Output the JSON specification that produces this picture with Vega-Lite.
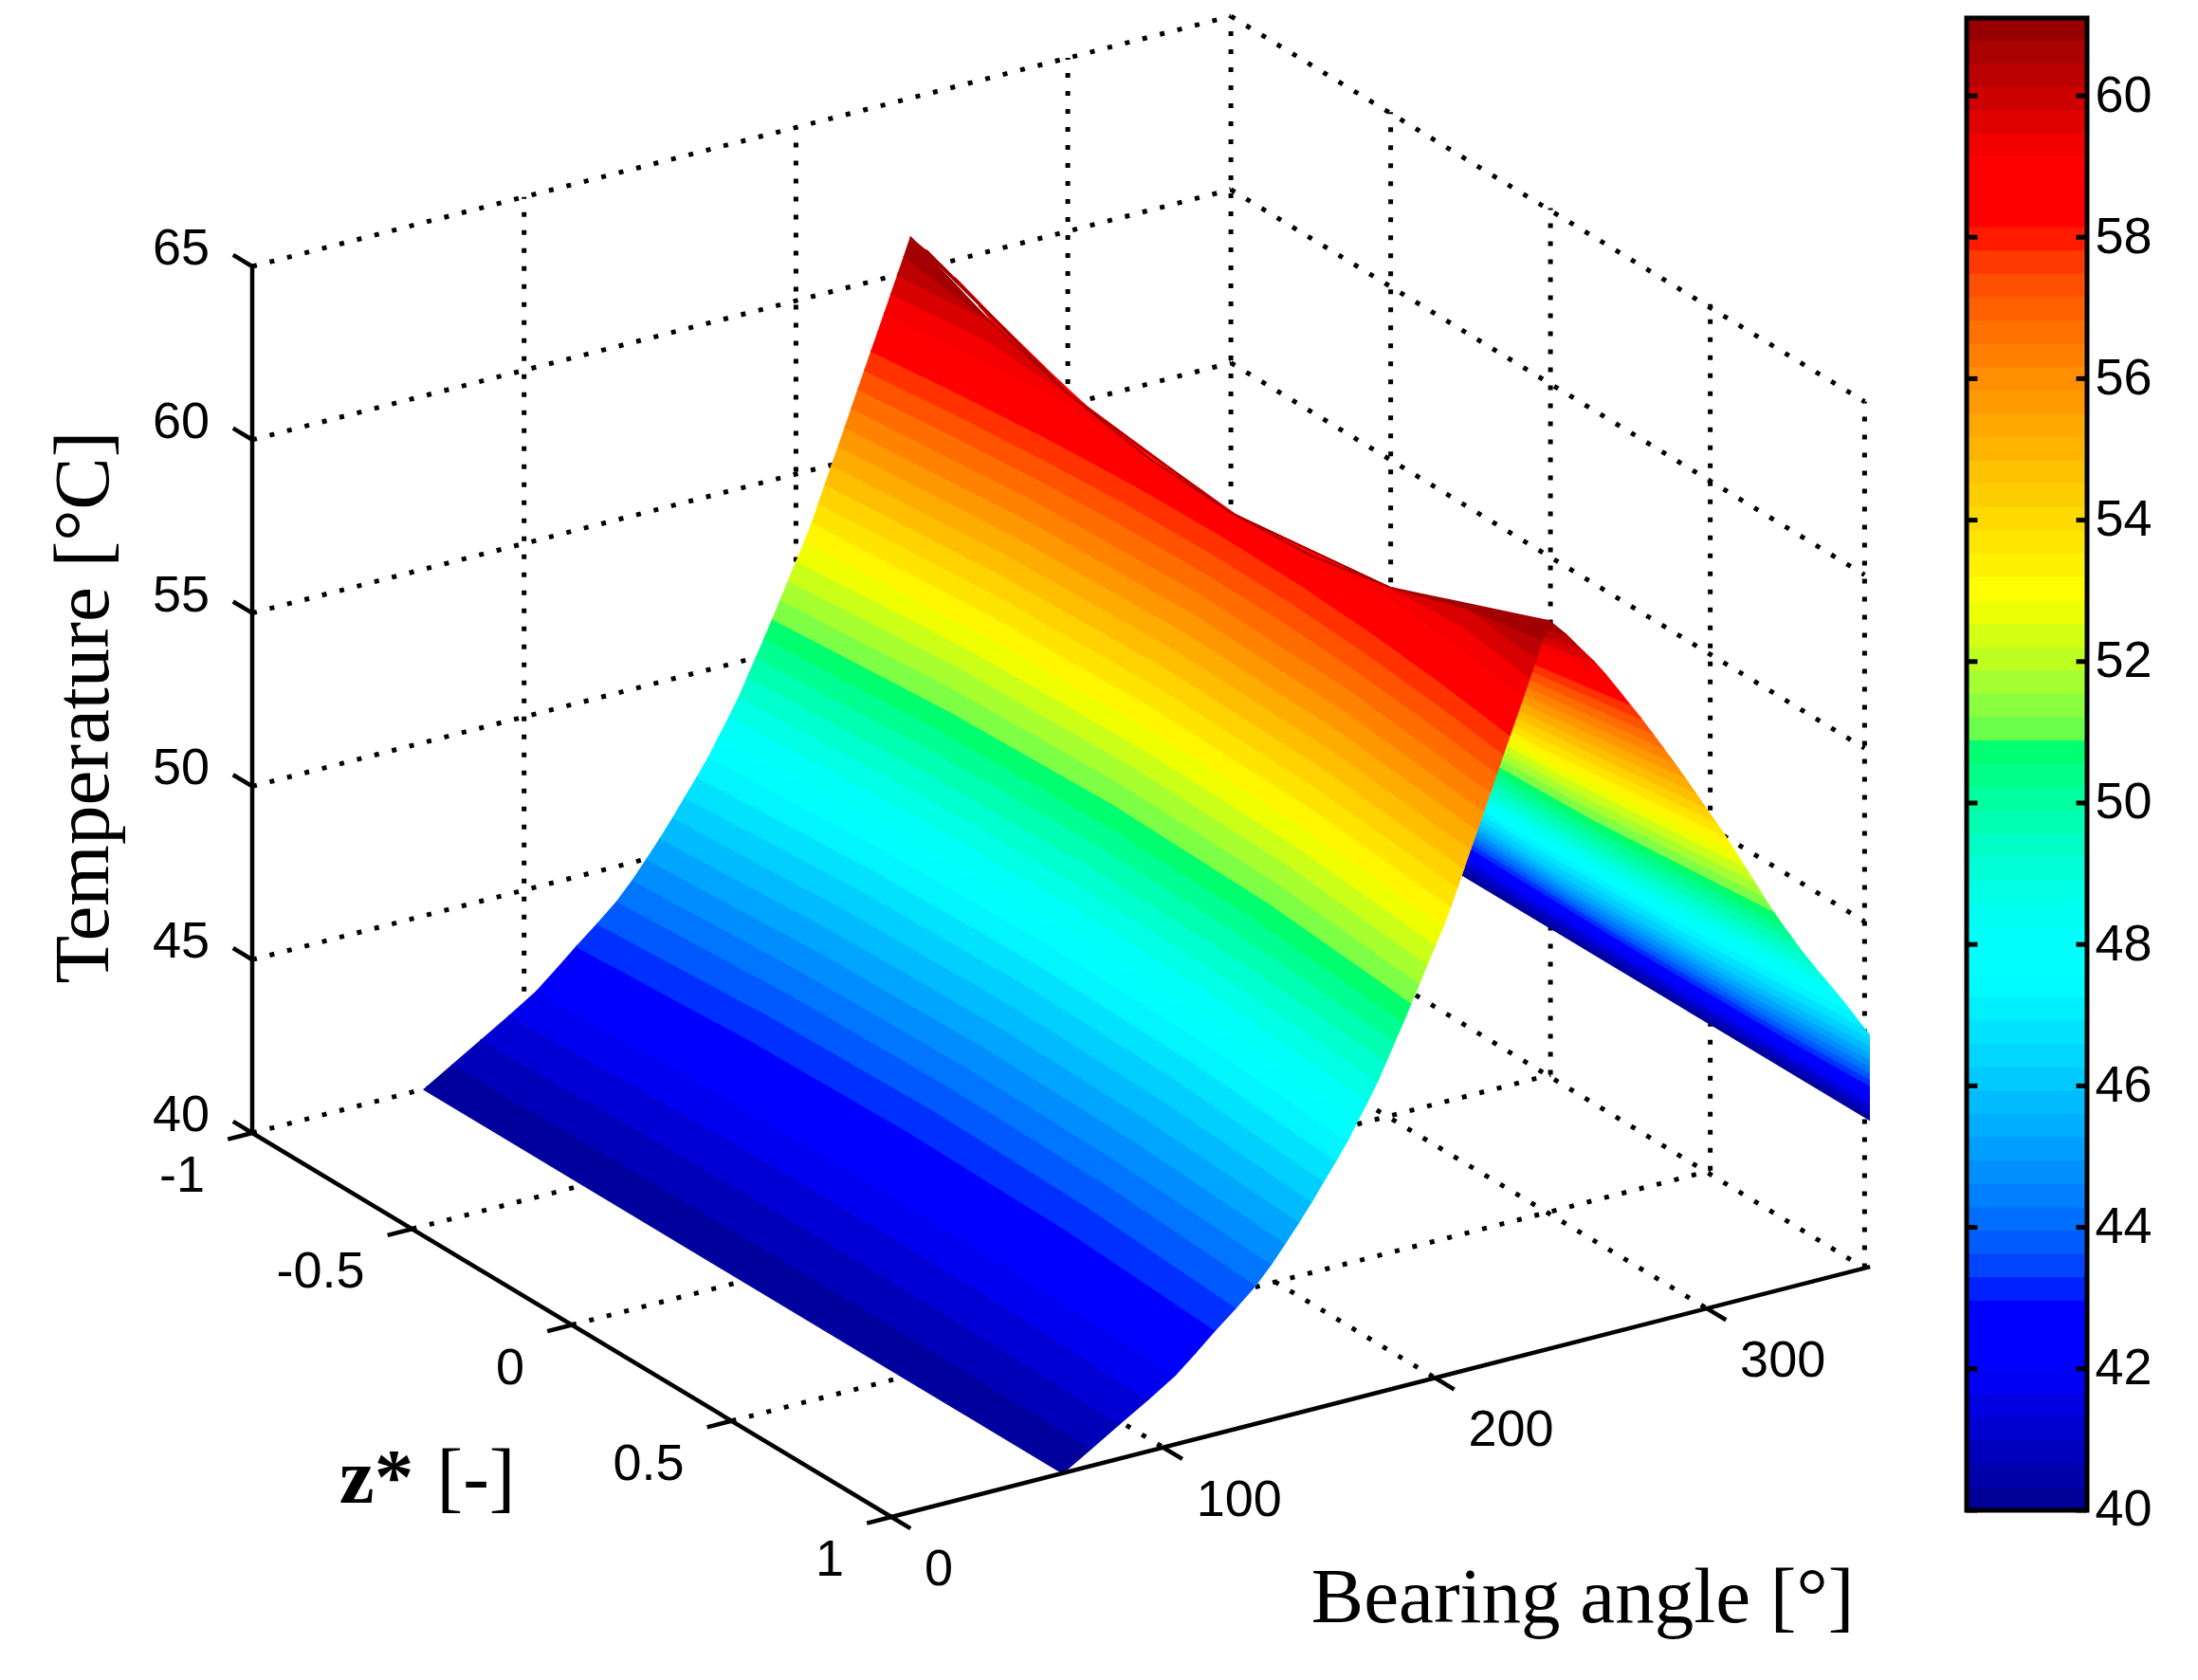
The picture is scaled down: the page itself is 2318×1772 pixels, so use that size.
{"$schema":"https://vega.github.io/schema/vega-lite/v6.json","padding":0,"background":"white","config":{"view":{"stroke":null}},"spacing":96,
"datasets":{
"iso":[
{"T":40,"f0":63,"f5":63,"f1":63,"b0":423,"b5":423,"b1":423},
{"T":40.5,"f0":74.8,"f5":74.4,"f1":73.5,"b0":417.6,"b5":417.8,"b1":418.2},
{"T":41,"f0":86.6,"f5":85.9,"f1":83.9,"b0":412.3,"b5":412.6,"b1":413.5},
{"T":41.5,"f0":98.4,"f5":97.3,"f1":94.4,"b0":406.9,"b5":407.4,"b1":408.8},
{"T":42,"f0":108.2,"f5":107.2,"f1":104.4,"b0":401.6,"b5":402.3,"b1":404},
{"T":42.5,"f0":116.7,"f5":115.4,"f1":111.9,"b0":396.3,"b5":397.1,"b1":399.3},
{"T":43,"f0":125.1,"f5":123.6,"f1":119.1,"b0":390.9,"b5":391.9,"b1":394.6},
{"T":43.5,"f0":133.4,"f5":131.6,"f1":126.8,"b0":385.6,"b5":386.8,"b1":389.8},
{"T":44,"f0":140,"f5":138.6,"f1":134,"b0":380.2,"b5":381.6,"b1":385.1},
{"T":44.5,"f0":145.6,"f5":144,"f1":139.8,"b0":374.9,"b5":376.4,"b1":380.4},
{"T":45,"f0":151.3,"f5":149.6,"f1":144.9,"b0":369.5,"b5":371.2,"b1":375.6},
{"T":45.5,"f0":156.5,"f5":154.7,"f1":149.9,"b0":364.2,"b5":366,"b1":370.9},
{"T":46,"f0":161.4,"f5":159.6,"f1":154.6,"b0":359,"b5":360.8,"b1":366.2},
{"T":46.5,"f0":166.4,"f5":164.4,"f1":159,"b0":354.3,"b5":356.2,"b1":361.4},
{"T":47,"f0":170.8,"f5":168.9,"f1":163.5,"b0":349.6,"b5":351.7,"b1":357.1},
{"T":47.5,"f0":175,"f5":173,"f1":167.8,"b0":344.7,"b5":347,"b1":353},
{"T":48,"f0":179.1,"f5":177.1,"f1":171.5,"b0":339.7,"b5":342.2,"b1":348.8},
{"T":48.5,"f0":182.6,"f5":180.7,"f1":175.3,"b0":335,"b5":337.3,"b1":344.4},
{"T":49,"f0":186.1,"f5":184.1,"f1":178.9,"b0":330.5,"b5":333,"b1":340},
{"T":49.5,"f0":189.5,"f5":187.5,"f1":182,"b0":326,"b5":328.7,"b1":335.7},
{"T":50,"f0":192.9,"f5":190.8,"f1":185.1,"b0":322,"b5":324.5,"b1":331.7},
{"T":50.5,"f0":196.3,"f5":194,"f1":188.2,"b0":318.1,"b5":320.7,"b1":327.8},
{"T":51,"f0":199.6,"f5":197.3,"f1":191.2,"b0":314.2,"b5":316.9,"b1":324},
{"T":51.5,"f0":203,"f5":200.6,"f1":194.2,"b0":310.2,"b5":313.1,"b1":320.5},
{"T":52,"f0":206,"f5":203.8,"f1":197.1,"b0":306.3,"b5":309.2,"b1":317.1},
{"T":52.5,"f0":208.7,"f5":206.6,"f1":200.1,"b0":302.1,"b5":305.4,"b1":313.6},
{"T":53,"f0":211.5,"f5":209.3,"f1":203.1,"b0":297.8,"b5":301.3,"b1":310.1},
{"T":53.5,"f0":214.2,"f5":211.9,"f1":205.8,"b0":293.6,"b5":297.2,"b1":306.6},
{"T":54,"f0":216.9,"f5":214.5,"f1":208.2,"b0":289.3,"b5":293,"b1":302.9},
{"T":54.5,"f0":219.7,"f5":217.2,"f1":210.6,"b0":284.9,"b5":288.9,"b1":299.1},
{"T":55,"f0":222.4,"f5":219.8,"f1":213,"b0":280.4,"b5":284.6,"b1":295.4},
{"T":55.5,"f0":225.1,"f5":222.5,"f1":215.5,"b0":275.8,"b5":280.2,"b1":291.6},
{"T":56,"f0":227.8,"f5":225.1,"f1":217.9,"b0":271.2,"b5":275.8,"b1":287.8},
{"T":56.5,"f0":230.6,"f5":227.7,"f1":220.3,"b0":266.2,"b5":271.3,"b1":283.8},
{"T":57,"f0":233.3,"f25":232.6,"f5":230.4,"f75":227,"f1":222.7,"b0":261.5,"b5":266.5,"b1":279.8},
{"T":57.5,"f0":236,"f25":235.3,"f5":233,"f75":229.6,"f1":225.1,"b0":255.7,"b5":261.9,"b1":275.8},
{"T":58,"f0":238.7,"f25":238,"f5":235.7,"f75":232.1,"f1":227.5,"b0":249.8,"b5":256.5,"b1":271.5},
{"T":58.5,"f0":241.3,"f25":240.7,"f5":238.3,"f75":234.6,"f1":230,"b0":243.9,"b5":250.7,"b1":267.3},
{"T":59,"f0":242,"f25":242,"f5":240.9,"f75":237.2,"f1":232.4,"b0":242,"b5":245,"b1":263},
{"T":59.5,"f0":242,"f25":242,"f5":242,"f75":239.7,"f1":234.8,"b0":242,"b5":242,"b1":258.4},
{"T":60,"f0":242,"f25":242,"f5":242,"f75":242,"f1":237.2,"b0":242,"b5":242,"b1":253.1},
{"T":60.5,"f0":242,"f25":242,"f5":242,"f75":242,"f1":239.6,"b0":242,"b5":242,"b1":248},
{"T":61,"f0":242,"f25":242,"f5":242,"f75":242,"f1":242,"b0":242,"b5":242,"b1":242}
],
"box":[
{"g":"d","theta":0,"z":-1,"T":40,"theta2":360,"z2":-1,"T2":40},{"g":"d","theta":0,"z":-1,"T":45,"theta2":360,"z2":-1,"T2":45},{"g":"d","theta":0,"z":-1,"T":50,"theta2":360,"z2":-1,"T2":50},{"g":"d","theta":0,"z":-1,"T":55,"theta2":360,"z2":-1,"T2":55},{"g":"d","theta":0,"z":-1,"T":60,"theta2":360,"z2":-1,"T2":60},{"g":"d","theta":0,"z":-1,"T":65,"theta2":360,"z2":-1,"T2":65},
{"g":"d","theta":360,"z":-1,"T":40,"theta2":358,"z2":1,"T2":40},{"g":"d","theta":360,"z":-1,"T":45,"theta2":358,"z2":1,"T2":45},{"g":"d","theta":360,"z":-1,"T":50,"theta2":358,"z2":1,"T2":50},{"g":"d","theta":360,"z":-1,"T":55,"theta2":358,"z2":1,"T2":55},{"g":"d","theta":360,"z":-1,"T":60,"theta2":358,"z2":1,"T2":60},{"g":"d","theta":360,"z":-1,"T":65,"theta2":358,"z2":1,"T2":65},
{"g":"d","theta":100,"z":-1,"T":40,"theta2":100,"z2":-1,"T2":65},{"g":"d","theta":200,"z":-1,"T":40,"theta2":200,"z2":-1,"T2":65},{"g":"d","theta":300,"z":-1,"T":40,"theta2":300,"z2":-1,"T2":65},{"g":"d","theta":360,"z":-1,"T":40,"theta2":360,"z2":-1,"T2":65},
{"g":"d","theta":360,"z":-0.5,"T":40,"theta2":360,"z2":-0.5,"T2":65},{"g":"d","theta":360,"z":0,"T":40,"theta2":360,"z2":0,"T2":65},{"g":"d","theta":360,"z":0.5,"T":40,"theta2":360,"z2":0.5,"T2":65},{"g":"d","theta":358,"z":1,"T":40,"theta2":358,"z2":1,"T2":65},
{"g":"d","theta":0,"z":-0.5,"T":40,"theta2":360,"z2":-0.5,"T2":40},{"g":"d","theta":0,"z":0,"T":40,"theta2":360,"z2":0,"T2":40},{"g":"d","theta":0,"z":0.5,"T":40,"theta2":360,"z2":0.5,"T2":40},
{"g":"d","theta":100,"z":-1,"T":40,"theta2":100,"z2":1,"T2":40},{"g":"d","theta":200,"z":-1,"T":40,"theta2":200,"z2":1,"T2":40},{"g":"d","theta":300,"z":-1,"T":40,"theta2":300,"z2":1,"T2":40},
{"g":"a","theta":0,"z":-1,"T":40,"theta2":0,"z2":-1,"T2":65},{"g":"a","theta":0,"z":-1,"T":40,"theta2":0,"z2":1,"T2":40},{"g":"a","theta":0,"z":1,"T":40,"theta2":360,"z2":1,"T2":40},
{"g":"a","theta":0,"z":-1,"T":40,"theta2":0,"z2":-1.06,"T2":40},{"g":"a","theta":0,"z":-1,"T":45,"theta2":0,"z2":-1.06,"T2":45},{"g":"a","theta":0,"z":-1,"T":50,"theta2":0,"z2":-1.06,"T2":50},{"g":"a","theta":0,"z":-1,"T":55,"theta2":0,"z2":-1.06,"T2":55},{"g":"a","theta":0,"z":-1,"T":60,"theta2":0,"z2":-1.06,"T2":60},{"g":"a","theta":0,"z":-1,"T":65,"theta2":0,"z2":-1.06,"T2":65},
{"g":"a","theta":0,"z":-1,"T":40,"theta2":-9,"z2":-1,"T2":40},{"g":"a","theta":0,"z":-0.5,"T":40,"theta2":-9,"z2":-0.5,"T2":40},{"g":"a","theta":0,"z":0,"T":40,"theta2":-9,"z2":0,"T2":40},{"g":"a","theta":0,"z":0.5,"T":40,"theta2":-9,"z2":0.5,"T2":40},{"g":"a","theta":0,"z":1,"T":40,"theta2":-9,"z2":1,"T2":40},
{"g":"a","theta":0,"z":1,"T":40,"theta2":0,"z2":1.06,"T2":40},{"g":"a","theta":100,"z":1,"T":40,"theta2":100,"z2":1.06,"T2":40},{"g":"a","theta":200,"z":1,"T":40,"theta2":200,"z2":1.06,"T2":40},{"g":"a","theta":300,"z":1,"T":40,"theta2":300,"z2":1.06,"T2":40}
],
"labels":[
{"kind":"T","txt":"40","theta":0,"z":-1,"T":40},{"kind":"T","txt":"45","theta":0,"z":-1,"T":45},{"kind":"T","txt":"50","theta":0,"z":-1,"T":50},{"kind":"T","txt":"55","theta":0,"z":-1,"T":55},{"kind":"T","txt":"60","theta":0,"z":-1,"T":60},{"kind":"T","txt":"65","theta":0,"z":-1,"T":65},
{"kind":"z","txt":"-1","theta":0,"z":-1,"T":40},{"kind":"z","txt":"-0.5","theta":0,"z":-0.5,"T":40},{"kind":"z","txt":"0","theta":0,"z":0,"T":40},{"kind":"z","txt":"0.5","theta":0,"z":0.5,"T":40},{"kind":"z","txt":"1","theta":0,"z":1,"T":40},
{"kind":"a","txt":"0","theta":0,"z":1,"T":40},{"kind":"a","txt":"100","theta":100,"z":1,"T":40},{"kind":"a","txt":"200","theta":200,"z":1,"T":40},{"kind":"a","txt":"300","theta":300,"z":1,"T":40},
{"kind":"tT","txt":"Temperature [°C]","theta":0,"z":-1,"T":52.5},{"kind":"tz","txt":"z*","theta":0,"z":0,"T":40},{"kind":"tu","txt":"[-]","theta":0,"z":0,"T":40},{"kind":"ta","txt":"Bearing angle [°]","theta":180,"z":1,"T":40}
],
"bar":[{"lo":40,"hi":40.33},{"lo":40.33,"hi":40.66},{"lo":40.66,"hi":40.99},{"lo":40.99,"hi":41.32},{"lo":41.32,"hi":41.65},{"lo":41.65,"hi":41.98},{"lo":41.98,"hi":42.31},{"lo":42.31,"hi":42.64},{"lo":42.64,"hi":42.97},{"lo":42.97,"hi":43.3},{"lo":43.3,"hi":43.63},{"lo":43.63,"hi":43.96},{"lo":43.96,"hi":44.29},{"lo":44.29,"hi":44.62},{"lo":44.62,"hi":44.95},{"lo":44.95,"hi":45.28},{"lo":45.28,"hi":45.61},{"lo":45.61,"hi":45.94},{"lo":45.94,"hi":46.27},{"lo":46.27,"hi":46.6},{"lo":46.6,"hi":46.93},{"lo":46.93,"hi":47.26},{"lo":47.26,"hi":47.59},{"lo":47.59,"hi":47.92},{"lo":47.92,"hi":48.25},{"lo":48.25,"hi":48.58},{"lo":48.58,"hi":48.91},{"lo":48.91,"hi":49.24},{"lo":49.24,"hi":49.57},{"lo":49.57,"hi":49.9},{"lo":49.9,"hi":50.23},{"lo":50.23,"hi":50.56},{"lo":50.56,"hi":50.89},{"lo":50.89,"hi":51.22},{"lo":51.22,"hi":51.55},{"lo":51.55,"hi":51.88},{"lo":51.88,"hi":52.21},{"lo":52.21,"hi":52.54},{"lo":52.54,"hi":52.87},{"lo":52.87,"hi":53.2},{"lo":53.2,"hi":53.53},{"lo":53.53,"hi":53.86},{"lo":53.86,"hi":54.19},{"lo":54.19,"hi":54.52},{"lo":54.52,"hi":54.85},{"lo":54.85,"hi":55.18},{"lo":55.18,"hi":55.51},{"lo":55.51,"hi":55.84},{"lo":55.84,"hi":56.17},{"lo":56.17,"hi":56.5},{"lo":56.5,"hi":56.83},{"lo":56.83,"hi":57.16},{"lo":57.16,"hi":57.49},{"lo":57.49,"hi":57.82},{"lo":57.82,"hi":58.15},{"lo":58.15,"hi":58.48},{"lo":58.48,"hi":58.81},{"lo":58.81,"hi":59.14},{"lo":59.14,"hi":59.47},{"lo":59.47,"hi":59.8},{"lo":59.8,"hi":60.13},{"lo":60.13,"hi":60.46},{"lo":60.46,"hi":60.79},{"lo":60.79,"hi":61.1}],
"frame":[{"lo":40,"hi":61.1}],
"barticks":[{"v":40},{"v":42},{"v":44},{"v":46},{"v":48},{"v":50},{"v":52},{"v":54},{"v":56},{"v":58},{"v":60}]
},
"hconcat":[
{"width":1972,"height":1772,
"encoding":{
"x":{"field":"sx","type":"quantitative","scale":{"domain":[0,1972],"nice":false,"zero":false},"axis":null},
"y":{"field":"sy","type":"quantitative","scale":{"domain":[1772,0],"nice":false,"zero":false},"axis":null}
},
"layer":[
{"data":{"name":"box"},
"transform":[{"filter":"datum.g=='d'"},
{"calculate":"603+337*datum.z+2.867*datum.theta","as":"sx"},{"calculate":"1397.5+202.5*datum.z-0.733*datum.theta-36.56*(datum.T-40)","as":"sy"},
{"calculate":"603+337*datum.z2+2.867*datum.theta2","as":"ex"},{"calculate":"1397.5+202.5*datum.z2-0.733*datum.theta2-36.56*(datum.T2-40)","as":"ey"}],
"mark":{"type":"rule","color":"black","strokeWidth":5,"strokeDash":[5,14]},
"encoding":{"x2":{"field":"ex"},"y2":{"field":"ey"}}},
{"data":{"name":"iso"},
"transform":[{"fold":["b0","b5","b1"],"as":["k","theta"]},
{"calculate":"indexof(['b0','b5','b1'],datum.k)*0.5","as":"za"},
{"calculate":"[-1,1]","as":"sg"},{"flatten":["sg"]},{"filter":"datum.za>0||datum.sg>0"},
{"calculate":"datum.sg*datum.za","as":"z"},
{"calculate":"[datum.T,datum.T-0.5]","as":"b"},{"flatten":["b"]},{"filter":"datum.b>=40&&datum.b<61"},
{"calculate":"datum.T==datum.b?datum.z:10-datum.z","as":"ord"},
{"calculate":"datum.b+0.25","as":"mid"},
{"calculate":"min(datum.T,58.6+2.4*datum.z*datum.z)","as":"Tv"},
{"calculate":"603+337*datum.z+2.867*datum.theta","as":"sx"},{"calculate":"1397.5+202.5*datum.z-0.733*datum.theta-36.56*(datum.Tv-40)","as":"sy"}],
"mark":{"type":"line","clip":true,"strokeWidth":1.5},
"encoding":{"order":{"field":"ord","type":"quantitative"},"detail":{"field":"b"},
"fill":{"field":"mid","type":"quantitative","legend":null,"scale":{"domain":[40,42,43,47.55,48,50.86,50.87,53,58.1,59.1,61.1],"range":["#000090","#0000ff","#0000ff","#00ffff","#00ffff","#00ff66","#55ff55","#ffff00","#ff0000","#ff0000","#8f0000"]}},
"stroke":{"field":"mid","type":"quantitative","legend":null,"scale":{"domain":[40,42,43,47.55,48,50.86,50.87,53,58.1,59.1,61.1],"range":["#000090","#0000ff","#0000ff","#00ffff","#00ffff","#00ff66","#55ff55","#ffff00","#ff0000","#ff0000","#8f0000"]}}}},
{"data":{"name":"iso"},
"transform":[{"fold":["f0","f25","f5","f75","f1"],"as":["k","theta"]},{"filter":"isValid(datum.theta)"},
{"calculate":"indexof(['f0','f25','f5','f75','f1'],datum.k)*0.25","as":"za"},
{"calculate":"[-1,1]","as":"sg"},{"flatten":["sg"]},{"filter":"datum.za>0||datum.sg>0"},
{"calculate":"datum.sg*datum.za","as":"z"},
{"calculate":"[datum.T,datum.T-0.5]","as":"b"},{"flatten":["b"]},{"filter":"datum.b>=40&&datum.b<61"},
{"calculate":"datum.T==datum.b?datum.z:10-datum.z","as":"ord"},
{"calculate":"datum.b+0.25","as":"mid"},
{"calculate":"min(datum.T,58.6+2.4*datum.z*datum.z)","as":"Tv"},
{"calculate":"603+337*datum.z+2.867*datum.theta","as":"sx"},{"calculate":"1397.5+202.5*datum.z-0.733*datum.theta-36.56*(datum.Tv-40)","as":"sy"}],
"mark":{"type":"line","strokeWidth":1.5},
"encoding":{"order":{"field":"ord","type":"quantitative"},"detail":{"field":"b"},
"fill":{"field":"mid","type":"quantitative","legend":null,"scale":{"domain":[40,42,43,47.55,48,50.86,50.87,53,58.1,59.1,61.1],"range":["#000090","#0000ff","#0000ff","#00ffff","#00ffff","#00ff66","#55ff55","#ffff00","#ff0000","#ff0000","#8f0000"]}},
"stroke":{"field":"mid","type":"quantitative","legend":null,"scale":{"domain":[40,42,43,47.55,48,50.86,50.87,53,58.1,59.1,61.1],"range":["#000090","#0000ff","#0000ff","#00ffff","#00ffff","#00ff66","#55ff55","#ffff00","#ff0000","#ff0000","#8f0000"]}}}},
{"data":{"name":"box"},
"transform":[{"filter":"datum.g=='a'"},
{"calculate":"603+337*datum.z+2.867*datum.theta","as":"sx"},{"calculate":"1397.5+202.5*datum.z-0.733*datum.theta-36.56*(datum.T-40)","as":"sy"},
{"calculate":"603+337*datum.z2+2.867*datum.theta2","as":"ex"},{"calculate":"1397.5+202.5*datum.z2-0.733*datum.theta2-36.56*(datum.T2-40)","as":"ey"}],
"mark":{"type":"rule","color":"black","strokeWidth":4.5},
"encoding":{"x2":{"field":"ex"},"y2":{"field":"ey"}}},
{"data":{"name":"labels"},
"transform":[{"filter":"datum.kind=='T'"},{"calculate":"603+337*datum.z+2.867*datum.theta","as":"sx"},{"calculate":"1397.5+202.5*datum.z-0.733*datum.theta-36.56*(datum.T-40)","as":"sy"}],
"mark":{"type":"text","font":"Liberation Sans","fontSize":54,"color":"black","align":"right","baseline":"middle","dx":-45,"dy":-18},
"encoding":{"text":{"field":"txt"}}},
{"data":{"name":"labels"},
"transform":[{"filter":"datum.kind=='z'"},{"calculate":"603+337*datum.z+2.867*datum.theta","as":"sx"},{"calculate":"1397.5+202.5*datum.z-0.733*datum.theta-36.56*(datum.T-40)","as":"sy"}],
"mark":{"type":"text","font":"Liberation Sans","fontSize":54,"color":"black","align":"right","baseline":"middle","dx":-50,"dy":46},
"encoding":{"text":{"field":"txt"}}},
{"data":{"name":"labels"},
"transform":[{"filter":"datum.kind=='a'"},{"calculate":"603+337*datum.z+2.867*datum.theta","as":"sx"},{"calculate":"1397.5+202.5*datum.z-0.733*datum.theta-36.56*(datum.T-40)","as":"sy"}],
"mark":{"type":"text","font":"Liberation Sans","fontSize":54,"color":"black","align":"left","baseline":"middle","dx":35,"dy":56},
"encoding":{"text":{"field":"txt"}}},
{"data":{"name":"labels"},
"transform":[{"filter":"datum.kind=='tT'"},{"calculate":"603+337*datum.z+2.867*datum.theta","as":"sx"},{"calculate":"1397.5+202.5*datum.z-0.733*datum.theta-36.56*(datum.T-40)","as":"sy"}],
"mark":{"type":"text","font":"Liberation Serif","fontSize":83,"color":"black","align":"center","baseline":"middle","angle":270,"dx":-8,"dy":-177},
"encoding":{"text":{"field":"txt"}}},
{"data":{"name":"labels"},
"transform":[{"filter":"datum.kind=='tz'"},{"calculate":"603+337*datum.z+2.867*datum.theta","as":"sx"},{"calculate":"1397.5+202.5*datum.z-0.733*datum.theta-36.56*(datum.T-40)","as":"sy"}],
"mark":{"type":"text","font":"Liberation Serif","fontWeight":"bold","fontSize":83,"color":"black","align":"center","baseline":"alphabetic","dx":-206,"dy":187},
"encoding":{"text":{"field":"txt"}}},
{"data":{"name":"labels"},
"transform":[{"filter":"datum.kind=='tu'"},{"calculate":"603+337*datum.z+2.867*datum.theta","as":"sx"},{"calculate":"1397.5+202.5*datum.z-0.733*datum.theta-36.56*(datum.T-40)","as":"sy"}],
"mark":{"type":"text","font":"Liberation Serif","fontSize":83,"color":"black","align":"center","baseline":"alphabetic","dx":-101,"dy":187},
"encoding":{"text":{"field":"txt"}}},
{"data":{"name":"labels"},
"transform":[{"filter":"datum.kind=='ta'"},{"calculate":"603+337*datum.z+2.867*datum.theta","as":"sx"},{"calculate":"1397.5+202.5*datum.z-0.733*datum.theta-36.56*(datum.T-40)","as":"sy"}],
"mark":{"type":"text","font":"Liberation Serif","fontSize":83,"color":"black","align":"center","baseline":"middle","dx":213,"dy":218},
"encoding":{"text":{"field":"txt"}}}
]},
{"width":127,"height":1772,
"layer":[
{"data":{"name":"bar"},
"transform":[{"calculate":"(datum.lo+datum.hi)/2","as":"mid"}],
"mark":{"type":"rect","strokeWidth":1},
"encoding":{
"x":{"datum":0,"type":"quantitative","scale":{"domain":[0,1],"nice":false,"zero":false},"axis":null},"x2":{"datum":1},
"y":{"field":"lo","type":"quantitative","scale":{"domain":[37.6,61.354],"nice":false,"zero":false},
"axis":{"orient":"right","values":[40,42,44,46,48,50,52,54,56,58,60],"format":"d","domain":false,"grid":false,"ticks":false,"labelFont":"Liberation Sans","labelFontSize":54,"labelColor":"black","labelPadding":8,"title":null}},
"y2":{"field":"hi"},
"fill":{"field":"mid","type":"quantitative","legend":null,"scale":{"domain":[40,42,43,47.55,48,50.86,50.87,53,58.1,59.1,61.1],"range":["#000090","#0000ff","#0000ff","#00ffff","#00ffff","#00ff66","#55ff55","#ffff00","#ff0000","#ff0000","#8f0000"]}},
"stroke":{"field":"mid","type":"quantitative","legend":null,"scale":{"domain":[40,42,43,47.55,48,50.86,50.87,53,58.1,59.1,61.1],"range":["#000090","#0000ff","#0000ff","#00ffff","#00ffff","#00ff66","#55ff55","#ffff00","#ff0000","#ff0000","#8f0000"]}}}},
{"data":{"name":"frame"},
"mark":{"type":"rect","fillOpacity":0,"stroke":"black","strokeWidth":5},
"encoding":{
"x":{"datum":0,"type":"quantitative"},"x2":{"datum":1},
"y":{"field":"lo","type":"quantitative"},
"y2":{"field":"hi"}}},
{"data":{"name":"barticks"},
"mark":{"type":"rule","color":"black","strokeWidth":5},
"encoding":{"x":{"datum":0,"type":"quantitative"},"x2":{"datum":0.09},"y":{"field":"v","type":"quantitative"}}},
{"data":{"name":"barticks"},
"mark":{"type":"rule","color":"black","strokeWidth":5},
"encoding":{"x":{"datum":0.91,"type":"quantitative"},"x2":{"datum":1},"y":{"field":"v","type":"quantitative"}}}
]}
]}
